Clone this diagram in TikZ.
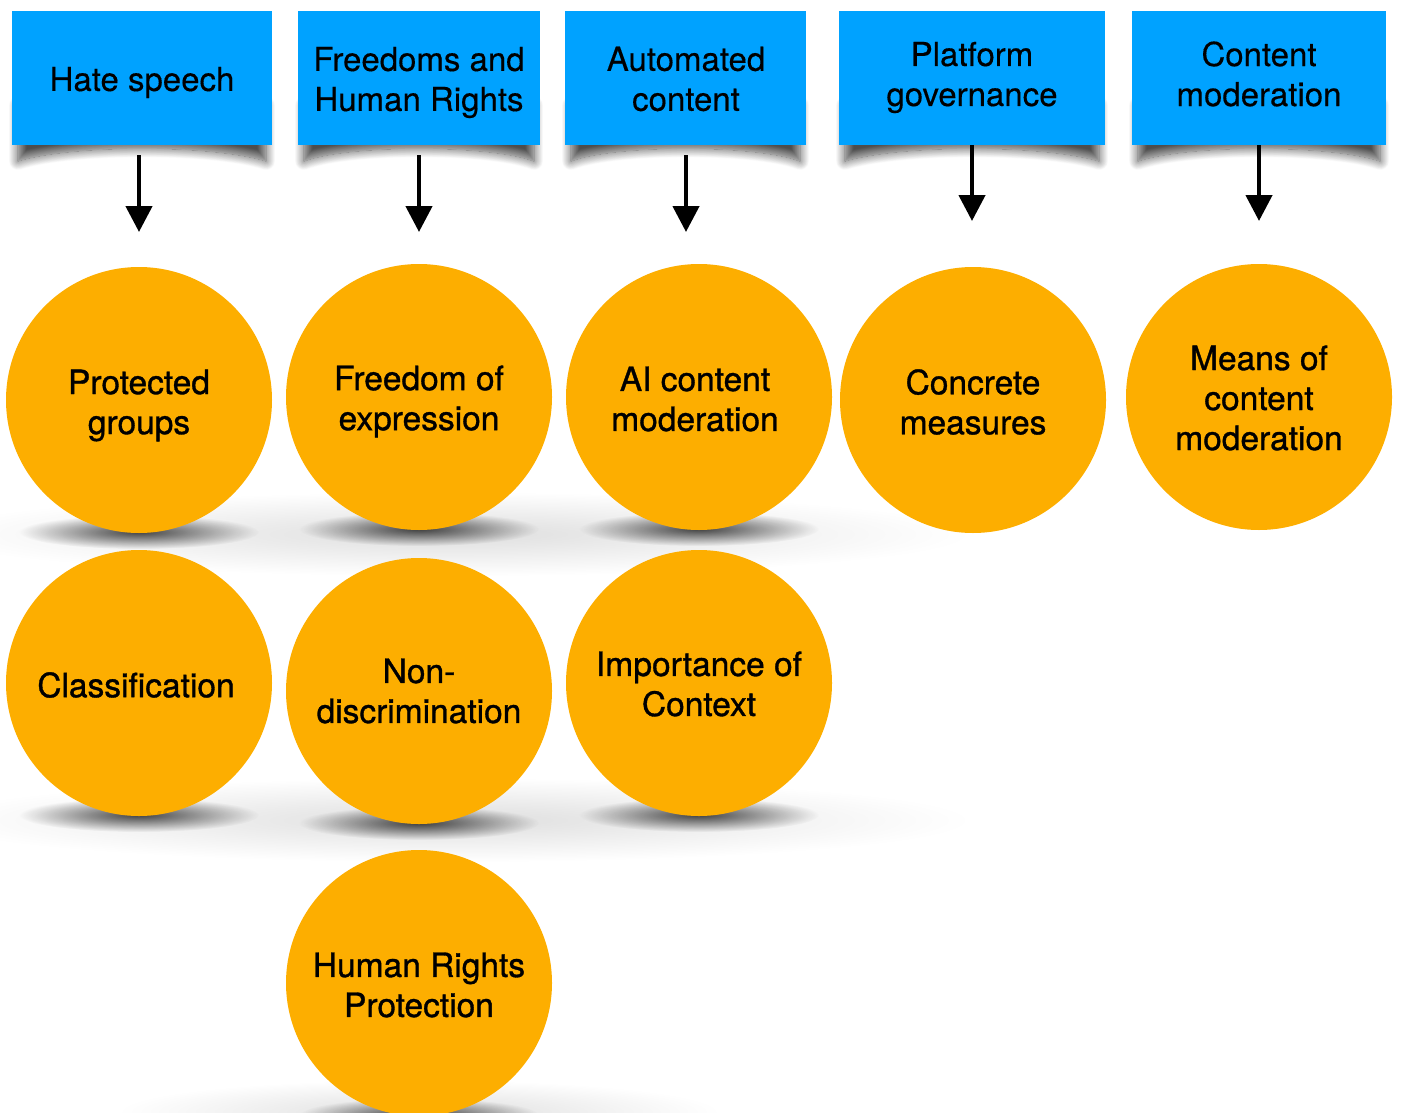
\documentclass[tikz,border=0pt]{standalone}
\usepackage{fontspec}
\setmainfont{TeX Gyre Heros}
\newfontfamily\hdrfont[FakeBold=0.3]{TeX Gyre Heros}
\newfontfamily\topicfont[FakeBold=1.0]{TeX Gyre Heros}
\usetikzlibrary{arrows.meta,calc,fadings,shadows.blur}

\definecolor{hdrblue}{RGB}{0,162,255}
\definecolor{topicorange}{RGB}{253,174,0}
\tikzfading[name=softspot, inner color=transparent!0, outer color=transparent!100]

\begin{document}
\begin{tikzpicture}[x=1pt,y=-1pt,
  hdr/.style={fill=hdrblue, draw=none, minimum height=134pt, inner sep=0pt},
  hdrtext/.style={font=\hdrfont\fontsize{33}{40}\selectfont, align=center, inner sep=0pt},
  topic/.style={circle, fill=topicorange, draw=none, minimum size=266pt, inner sep=0pt},
  topictext/.style={font=\topicfont\fontsize{33.5}{40}\selectfont, align=center, inner sep=0pt},
  arr/.style={line width=4.5pt, draw=black,
      -{Triangle[width=26pt,length=26pt,fill=black]}},
  hdrshadow/.style={blur shadow={shadow xshift=0pt, shadow yshift=0pt,
      shadow blur radius=9pt, shadow opacity=70, shadow blur steps=14}},
  haze/.style={fill=black, opacity=#1, path fading=softspot}
]
\useasboundingbox (0,0) rectangle (1402,1113);

% header boxes
\node[hdr, minimum width=260pt] (h1) at (142,78) {};
\node[hdr, minimum width=242pt] (h2) at (419,78) {};
\node[hdr, minimum width=241pt] (h3) at (685.5,78) {};
\node[hdr, minimum width=266pt] (h4) at (972,78) {};
\node[hdr, minimum width=254pt] (h5) at (1259,78) {};

% centres of the topic circles
\path
  (139,400)  coordinate (p1)  (419,397) coordinate (p2)  (699,397) coordinate (p3)
  (973,400)  coordinate (p4)  (1259,397) coordinate (p5)
  (139,683)  coordinate (p6)  (419,691) coordinate (p7)  (699,683) coordinate (p8)
  (419,983)  coordinate (p9);

% broad soft haze below the rows
\fill[haze=0.13] (450,534) ellipse [x radius=520, y radius=42];
\fill[haze=0.13] (450,820) ellipse [x radius=520, y radius=42];
\fill[haze=0.13] (419,1112) ellipse [x radius=300, y radius=32];

% contact shadows under the circles
\foreach \p in {p1,p2,p3,p6,p7,p8,p9}
  \fill[haze=0.72] ($(\p)+(0,132)$) ellipse [x radius=120, y radius=17];

\node[topic] (c1) at (p1) {};
\node[topic] (c2) at (p2) {};
\node[topic] (c3) at (p3) {};
\node[topic] (c4) at (p4) {};
\node[topic] (c5) at (p5) {};
\node[topic] (c6) at (p6) {};
\node[topic] (c7) at (p7) {};
\node[topic] (c8) at (p8) {};
\node[topic] (c9) at (p9) {};

% lifted-corner shadows under the header boxes
\foreach \h in {h1,h2,h3,h4,h5}
  \path[hdrshadow] ($(\h.south west)+(6,-40)$) -- ($(\h.south east)+(-6,-40)$)
    -- ($(\h.south east)+(-6,16)$)
    .. controls ($(\h.south)+(70,-1)$) and ($(\h.south)+(-70,-1)$) .. ($(\h.south west)+(6,16)$)
    -- cycle;
\foreach \h in {h1,h2,h3,h4,h5}
  \fill[hdrblue] (\h.south west) rectangle (\h.north east);

% header labels
\node[hdrtext] (t1) at (142,82.5) {Hate speech};
\node[hdrtext] (t2) at (419,82.5) {Freedoms and\\Human Rights};
\node[hdrtext] (t3) at (686,79) {Automated\\content};
\node[hdrtext] (t4) at (972,77.5) {Platform\\governance};
\node[hdrtext] (t5) at (1259,74) {Content\\moderation};

% circle labels
\node[topictext] (c1t) at (139,405.5) {Protected\\groups};
\node[topictext] (c2t) at (419,401.5) {Freedom of\\expression};
\node[topictext] (c3t) at (695,399) {AI content\\moderation};
\node[topictext] (c4t) at (973,402) {Concrete\\measures};
\node[topictext] (c5t) at (1259,398) {Means of\\content\\moderation};
\node[topictext] (c6t) at (136,685) {Classification};
\node[topictext] (c7t) at (419,691) {Non-\\discrimination};
\node[topictext] (c8t) at (699,684) {Importance of\\Context};
\node[topictext] (c9t) at (419,985) {Human Rights\\Protection};

% arrows from headers towards topics
\coordinate (a1) at (139,232);
\coordinate (a2) at (419,232);
\coordinate (a3) at (686,232);
\coordinate (a4) at (972,221);
\coordinate (a5) at (1259,221);
\draw[arr, shorten <=10pt] (h1.south -| a1) -- (a1);
\draw[arr, shorten <=10pt] (h2.south -| a2) -- (a2);
\draw[arr, shorten <=10pt] (h3.south -| a3) -- (a3);
\draw[arr] (h4.south -| a4) -- (a4);
\draw[arr] (h5.south -| a5) -- (a5);
\end{tikzpicture}
\end{document}
